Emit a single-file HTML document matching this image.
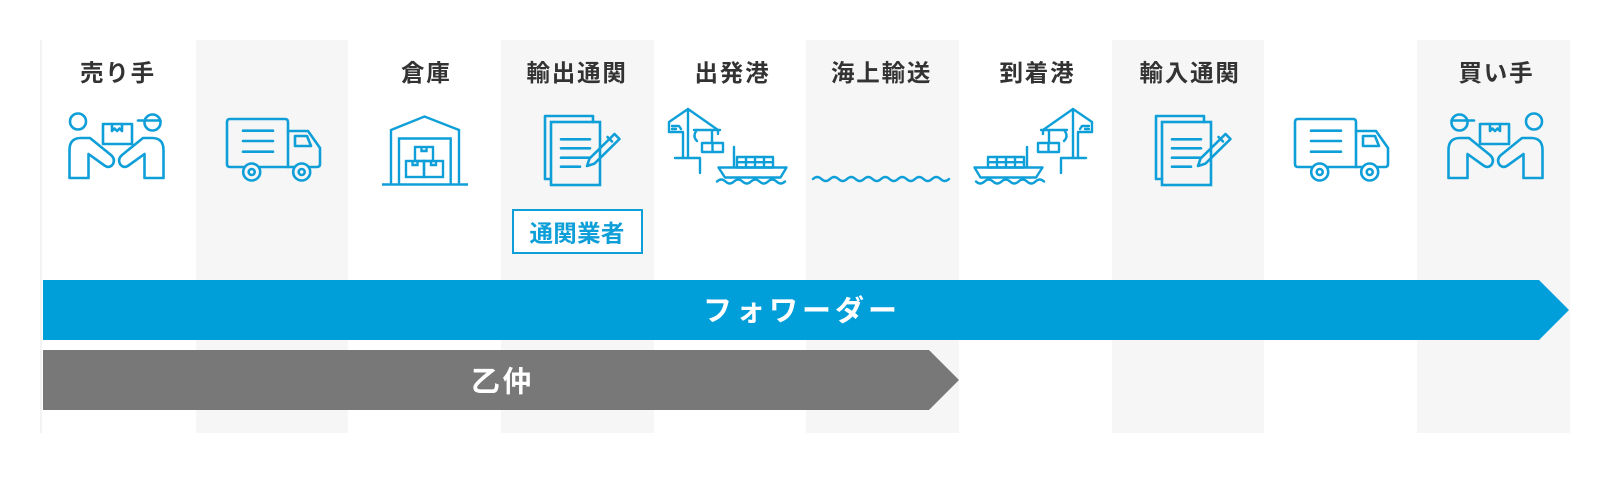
<!DOCTYPE html>
<html>
<head>
<meta charset="utf-8">
<style>
html,body{margin:0;padding:0;background:#fff;}
svg{display:block;}
text{font-family:"Liberation Sans","Noto Sans CJK JP",sans-serif;font-weight:700;}
</style>
</head>
<body>
<svg width="1600" height="480" viewBox="0 0 1600 480" xmlns="http://www.w3.org/2000/svg">
<rect x="0" y="0" width="1600" height="480" fill="#fff"/>
<!-- columns -->
<rect x="40" y="40" width="2" height="393" fill="#f3f3f3"/>
<g fill="#f6f6f6">
<rect x="196" y="40" width="152" height="393"/>
<rect x="501" y="40" width="153" height="393"/>
<rect x="806" y="40" width="153" height="393"/>
<rect x="1112" y="40" width="152" height="393"/>
<rect x="1417" y="40" width="153" height="393"/>
</g>

<!-- headers -->
<g fill="#333" font-size="23.5" letter-spacing="1.8">
<text x="80" y="81">売り手</text>
<text x="401" y="81">倉庫</text>
<text x="526.5" y="81">輸出通関</text>
<text x="694.5" y="81">出発港</text>
<text x="831" y="81">海上輸送</text>
<text x="999.5" y="81">到着港</text>
<text x="1139.5" y="81">輸入通関</text>
<text x="1458.5" y="81">買い手</text>
</g>

<defs>
<g id="hand" fill="none" stroke="#0f9fd8" stroke-width="2.6" stroke-linejoin="round" stroke-linecap="round">
  <circle cx="78" cy="121.5" r="8"/>
  <circle cx="152.5" cy="122.5" r="8"/>
  <path d="M138 120.5 H160.5"/>
  <rect x="103" y="124" width="29" height="20"/>
  <path d="M112 124 V131 L114.5 128.5 L117 131 L119.5 128.5 L122 131 V124"/>
  <path d="M69.5 178 V150 Q69.5 138 81 138 H90 L111 155 Q115.5 159 113 164 Q109.5 169 104.5 165.5 L88.5 154 V178 Z"/>
  <path d="M163.5 178 V150 Q163.5 138 152 138 H143 L122 155 Q117.5 159 120 164 Q123.5 169 128.5 165.5 L144.5 154 V178 Z"/>
</g>
<g id="truck" stroke="#0f9fd8" stroke-width="2.6" stroke-linejoin="round" stroke-linecap="round">
  <path fill="none" d="M288 167 H230 Q227 167 227 164 V122 Q227 119 230 119 H285 Q288 119 288 122 V167"/>
  <path fill="none" d="M288 131 H308 L320 148 V164 Q320 167 317 167 H288"/>
  <path fill="none" d="M295 136 H307 L311 146 H295 Z"/>
  <path fill="none" d="M243 130.7 H273 M243 141 H273 M243 151.7 H273"/>
</g>
<g id="docs" stroke="#0f9fd8" stroke-width="2.6" stroke-linejoin="round" stroke-linecap="round">
  <path fill="none" d="M551 179 H545 V116 H593 V122"/>
  <path fill="none" d="M561 139.3 H590 M561 148.3 H590 M561 157.7 H590 M561 166.7 H580"/>
  <path fill="none" d="M587 166 L594.5 163.6 L619.5 139 L614.5 134 L589.5 158.6 Z M612 141.5 L607.5 137"/>
</g>
<g id="port" fill="none" stroke="#0f9fd8" stroke-width="2.4" stroke-linejoin="round" stroke-linecap="round">
  <path d="M669 132 V122 L688 109 V158"/>
  <path d="M669 132 H683 V158"/>
  <path d="M672 126 H678 M672 129 H676 M679 126 L681 129"/>
  <path d="M675 158 H700 V173"/>
  <path d="M688 109 L718 130 V134"/>
  <path d="M694 130 H720"/>
  <path d="M697 130 Q692 136 697 141"/>
  <path d="M712 131 V143"/>
  <rect x="702" y="143" width="21" height="9"/>
  <path d="M712.5 143 V152"/>
  <path d="M718.5 167.5 H786.5 L780.5 177.5 H725 Z"/>
  <path d="M734 147 V167.5"/>
  <rect x="737" y="157" width="36" height="10.5"/>
  <path d="M737 162.2 H773 M746 157 V167.5 M755 157 V167.5 M764 157 V167.5"/>
  <path d="M717 181.5 q4.25 -4 8.5 0 t8.5 0 t8.5 0 t8.5 0 t8.5 0 t8.5 0 t8.5 0 t8.5 0"/>
</g>
</defs>

<!-- seller -->
<use href="#hand"/>
<!-- buyer (mirrored) -->
<use href="#hand" transform="matrix(-1 0 0 1 1612 0)"/>

<!-- truck col1 -->
<use href="#truck"/>
<g stroke="#0f9fd8" stroke-width="2.6" fill="#f6f6f6">
  <circle cx="251.7" cy="172" r="8.5"/><circle cx="251.7" cy="172" r="3"/>
  <circle cx="301.7" cy="172" r="8.5"/><circle cx="301.7" cy="172" r="3"/>
</g>
<!-- truck col8 -->
<use href="#truck" transform="translate(1068 0)"/>
<g stroke="#0f9fd8" stroke-width="2.6" fill="#fff">
  <circle cx="1319.7" cy="172" r="8.5"/><circle cx="1319.7" cy="172" r="3"/>
  <circle cx="1369.7" cy="172" r="8.5"/><circle cx="1369.7" cy="172" r="3"/>
</g>

<!-- warehouse -->
<g fill="none" stroke="#0f9fd8" stroke-width="2.4" stroke-linejoin="miter">
  <path d="M391 184 V130 L424.5 116.5 L459 130 V184"/>
  <path d="M382 184.5 H468"/>
  <path d="M399 184 V138.5 H450.7 V184"/>
  <rect x="415" y="147" width="18" height="14"/>
  <rect x="406" y="161" width="18" height="16"/>
  <rect x="424" y="161" width="19" height="16"/>
  <path d="M421.5 147 V151 H426.5 V147 M412.5 161 V165 H417.5 V161 M431 161 V165 H436 V161"/>
</g>

<!-- docs col3 -->
<rect x="551" y="122" width="49" height="63" fill="#f6f6f6" stroke="#0f9fd8" stroke-width="2.6"/>
<use href="#docs"/>
<!-- docs col7 -->
<rect x="1162" y="122" width="49" height="63" fill="#f6f6f6" stroke="#0f9fd8" stroke-width="2.6"/>
<use href="#docs" transform="translate(611 0)"/>

<!-- ports -->
<use href="#port"/>
<use href="#port" transform="matrix(-1 0 0 1 1761 0)"/>

<!-- sea wave -->
<path fill="none" stroke="#0f9fd8" stroke-width="2.4" stroke-linecap="round" d="M813 179 q4.25 -4 8.5 0 t8.5 0 t8.5 0 t8.5 0 t8.5 0 t8.5 0 t8.5 0 t8.5 0 t8.5 0 t8.5 0 t8.5 0 t8.5 0 t8.5 0 t8.5 0 t8.5 0 t8.5 0"/>

<!-- badge -->
<rect x="513" y="210" width="129" height="43" fill="#fff" stroke="#0f9fd8" stroke-width="2"/>
<text x="529.5" y="241.5" font-size="23.5" letter-spacing="0.3" fill="#0f9fd8">通関業者</text>

<!-- arrows -->
<polygon points="43,280 1539,280 1569,310 1539,340 43,340" fill="#009fd9"/>
<text x="703" y="320.5" font-size="29" letter-spacing="4" fill="#fff">フォワーダー</text>
<polygon points="43,350 929,350 959,380 929,410 43,410" fill="#777877"/>
<text x="471" y="391.5" font-size="29" letter-spacing="2.5" fill="#fff">乙仲</text>
</svg>
</body>
</html>
